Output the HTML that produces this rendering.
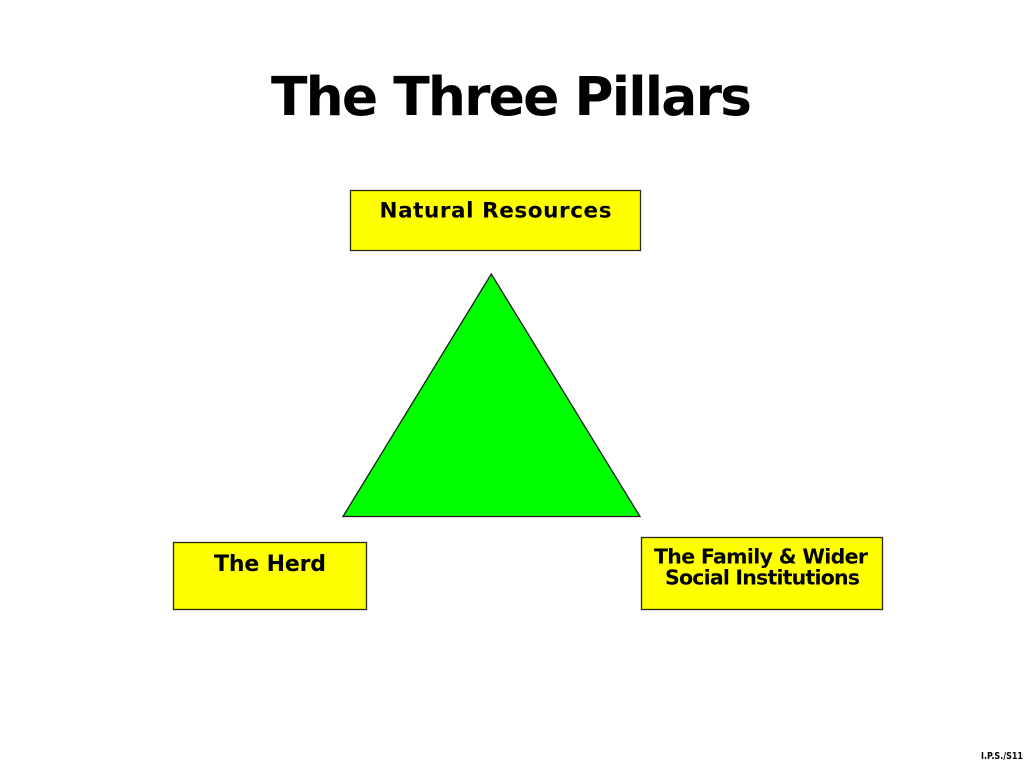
<!DOCTYPE html>
<html>
<head>
<meta charset="utf-8">
<style>
html,body{margin:0;padding:0;background:#fff;}
svg{display:block;}
text{font-family:"DejaVu Sans","Liberation Sans",sans-serif;font-weight:bold;fill:#000;}
</style>
</head>
<body>
<svg width="1024" height="768" viewBox="0 0 1024 768" xmlns="http://www.w3.org/2000/svg">
  <rect x="0" y="0" width="1024" height="768" fill="#fff"/>
  <text x="271" y="115" font-size="53.5" textLength="481" lengthAdjust="spacing">The Three Pillars</text>

  <rect x="350.5" y="190.5" width="290" height="60" fill="#ffff00" stroke="#2a2a10" stroke-width="1.3"/>
  <text x="379.5" y="217.5" font-size="21.5" textLength="232" lengthAdjust="spacing">Natural Resources</text>

  <polygon points="491.3,274 343,516.5 640,516.5" fill="#00ff00" stroke="#1a1a1a" stroke-width="1.3" stroke-linejoin="miter"/>

  <rect x="173.5" y="542.5" width="193" height="67" fill="#ffff00" stroke="#2a2a10" stroke-width="1.3"/>
  <text x="214" y="571" font-size="22" textLength="112" lengthAdjust="spacing">The Herd</text>

  <rect x="641.5" y="537.5" width="241" height="72" fill="#ffff00" stroke="#2a2a10" stroke-width="1.3"/>
  <text x="654" y="563.5" font-size="20.5" textLength="214" lengthAdjust="spacing">The Family &amp; Wider</text>
  <text x="665" y="584.5" font-size="20.5" textLength="195" lengthAdjust="spacing">Social Institutions</text>

  <text x="981" y="759" font-size="10" textLength="42" lengthAdjust="spacingAndGlyphs">I.P.S./S11</text>
</svg>
</body>
</html>
